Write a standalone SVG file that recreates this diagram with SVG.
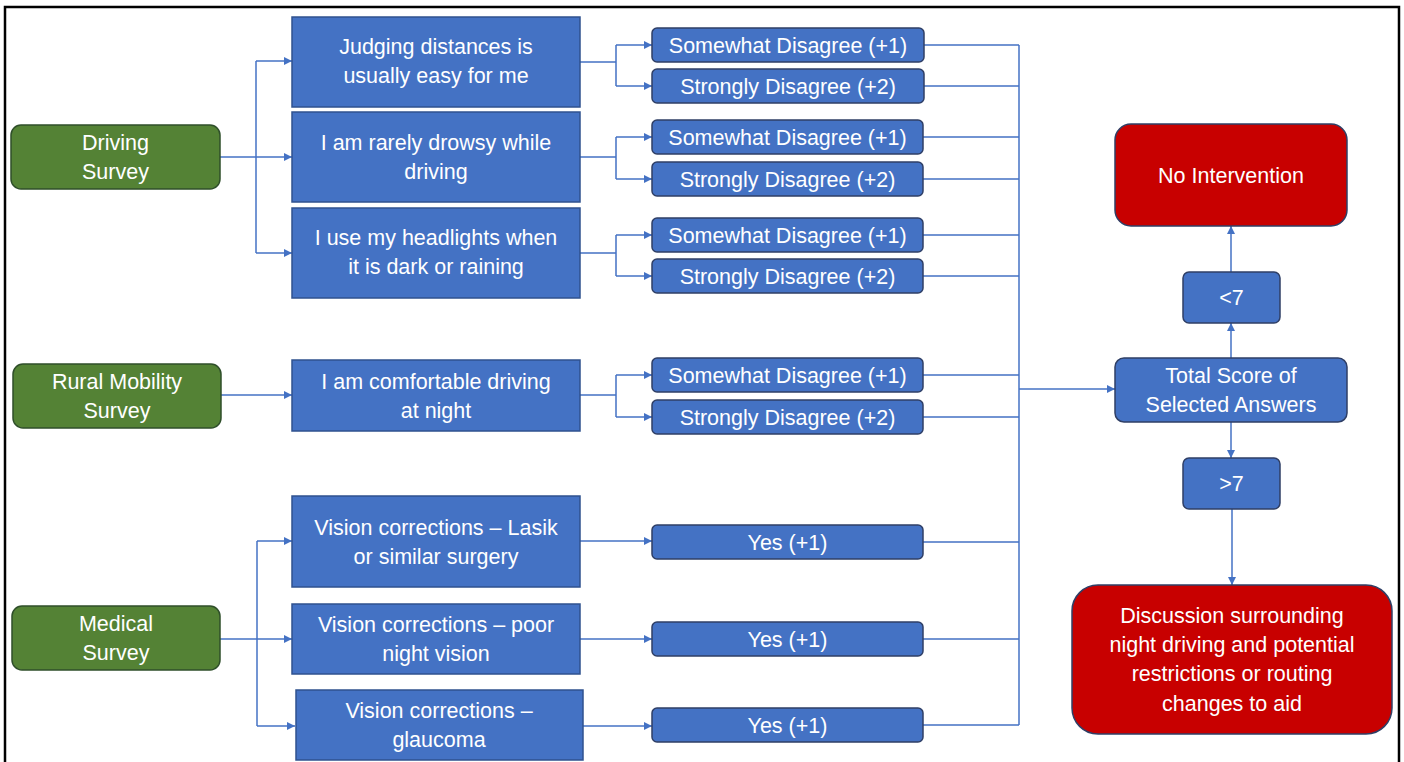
<svg xmlns="http://www.w3.org/2000/svg" width="1404" height="762" viewBox="0 0 1404 762">
  <defs>
    <marker id="arrow" viewBox="0 0 10 10" refX="10" refY="5" markerWidth="8" markerHeight="8" markerUnits="userSpaceOnUse" orient="auto">
      <path d="M0,0 L10,5 L0,10 z" fill="#4472C4"/>
    </marker>
    <style>
      .survey { fill: #548235; stroke: #2F4F2A; stroke-width: 1.5; }
      .question { fill: #4472C4; stroke: #2F528F; stroke-width: 1.5; }
      .answer { fill: #4472C4; stroke: #2F3F66; stroke-width: 1.5; }
      .outcome { fill: #C80000; stroke: #2F3F66; stroke-width: 1.5; }
      .label { fill: #FFFFFF; font-family: "Liberation Sans", Arial, sans-serif; font-size: 21.5px; text-anchor: middle; }
      .link { fill: none; stroke: #4472C4; stroke-width: 1.5; }
      .frame { fill: none; stroke: #000000; stroke-width: 2.5; }
    </style>
  </defs>

  <rect width="1404" height="762" fill="#FFFFFF"/>
  <!-- outer frame, open at the bottom edge -->
  <path class="frame" d="M5,770 V7 H1399 V770"/>

  <!-- connectors -->
  <g id="connectors">
    <!-- Driving Survey fan-out -->
    <path class="link" d="M220,157 H256"/>
    <path class="link" d="M256,61 V253"/>
    <path class="link" d="M256,61 H292" marker-end="url(#arrow)"/>
    <path class="link" d="M256,157 H292" marker-end="url(#arrow)"/>
    <path class="link" d="M256,253 H292" marker-end="url(#arrow)"/>
    <!-- Rural Mobility Survey -->
    <path class="link" d="M221,395 H292" marker-end="url(#arrow)"/>
    <!-- Medical Survey fan-out -->
    <path class="link" d="M220,639 H257"/>
    <path class="link" d="M257,541 V726"/>
    <path class="link" d="M257,541 H292" marker-end="url(#arrow)"/>
    <path class="link" d="M257,639 H292" marker-end="url(#arrow)"/>
    <path class="link" d="M257,726 H295" marker-end="url(#arrow)"/>

    <!-- questions to answer choices -->
    <path class="link" d="M580,62 H616 M616,45 V86"/>
    <path class="link" d="M616,45 H652" marker-end="url(#arrow)"/>
    <path class="link" d="M616,86 H652" marker-end="url(#arrow)"/>
    <path class="link" d="M580,157 H616 M616,137 V179"/>
    <path class="link" d="M616,137 H652" marker-end="url(#arrow)"/>
    <path class="link" d="M616,179 H652" marker-end="url(#arrow)"/>
    <path class="link" d="M580,253 H616 M616,235 V276"/>
    <path class="link" d="M616,235 H652" marker-end="url(#arrow)"/>
    <path class="link" d="M616,276 H652" marker-end="url(#arrow)"/>
    <path class="link" d="M580,395 H616 M616,375 V417"/>
    <path class="link" d="M616,375 H652" marker-end="url(#arrow)"/>
    <path class="link" d="M616,417 H652" marker-end="url(#arrow)"/>
    <path class="link" d="M580,541 H652" marker-end="url(#arrow)"/>
    <path class="link" d="M580,639 H652" marker-end="url(#arrow)"/>
    <path class="link" d="M583,726 H652" marker-end="url(#arrow)"/>

    <!-- answer choices into the score bus -->
    <path class="link" d="M924,45 H1019 M924,86 H1019 M923,137 H1019 M923,179 H1019 M923,235 H1019 M923,276 H1019 M923,375 H1019 M923,417 H1019 M923,542 H1019 M923,639 H1019 M923,725 H1019"/>
    <path class="link" d="M1019,45 V725"/>
    <path class="link" d="M1019,389 H1115" stroke-width="2.2" marker-end="url(#arrow)"/>

    <!-- score thresholds -->
    <path class="link" d="M1231,358 V323" marker-end="url(#arrow)"/>
    <path class="link" d="M1231,272 V226" marker-end="url(#arrow)"/>
    <path class="link" d="M1231,422 V458" marker-end="url(#arrow)"/>
    <path class="link" d="M1232,509 V585" marker-end="url(#arrow)"/>
  </g>

  <!-- surveys -->
  <g id="driving-survey">
    <rect class="survey" x="11" y="125" width="209" height="64" rx="10"/>
    <text class="label" x="115.5" y="150">Driving</text>
    <text class="label" x="115.5" y="179">Survey</text>
  </g>
  <g id="rural-mobility-survey">
    <rect class="survey" x="13" y="364" width="208" height="64" rx="10"/>
    <text class="label" x="117" y="389">Rural Mobility</text>
    <text class="label" x="117" y="418">Survey</text>
  </g>
  <g id="medical-survey">
    <rect class="survey" x="12" y="606" width="208" height="64" rx="10"/>
    <text class="label" x="116" y="631">Medical</text>
    <text class="label" x="116" y="660">Survey</text>
  </g>

  <!-- questions -->
  <g id="q-distances">
    <rect class="question" x="292" y="17" width="288" height="90"/>
    <text class="label" x="436" y="54">Judging distances is</text>
    <text class="label" x="436" y="83">usually easy for me</text>
  </g>
  <g id="q-drowsy">
    <rect class="question" x="292" y="112" width="288" height="90"/>
    <text class="label" x="436" y="150">I am rarely drowsy while</text>
    <text class="label" x="436" y="179">driving</text>
  </g>
  <g id="q-headlights">
    <rect class="question" x="292" y="208" width="288" height="90"/>
    <text class="label" x="436" y="245">I use my headlights when</text>
    <text class="label" x="436" y="274">it is dark or raining</text>
  </g>
  <g id="q-night">
    <rect class="question" x="292" y="360" width="288" height="71"/>
    <text class="label" x="436" y="389">I am comfortable driving</text>
    <text class="label" x="436" y="418">at night</text>
  </g>
  <g id="q-lasik">
    <rect class="question" x="292" y="496" width="288" height="91"/>
    <text class="label" x="436" y="535">Vision corrections – Lasik</text>
    <text class="label" x="436" y="564">or similar surgery</text>
  </g>
  <g id="q-night-vision">
    <rect class="question" x="292" y="604" width="288" height="70"/>
    <text class="label" x="436" y="632">Vision corrections – poor</text>
    <text class="label" x="436" y="661">night vision</text>
  </g>
  <g id="q-glaucoma">
    <rect class="question" x="296" y="690" width="287" height="70"/>
    <text class="label" x="439" y="718">Vision corrections –</text>
    <text class="label" x="439" y="747">glaucoma</text>
  </g>

  <!-- answer choices -->
  <g id="a-distances-somewhat">
    <rect class="answer" x="652" y="28" width="272" height="34" rx="5"/>
    <text class="label" x="788" y="52.5">Somewhat Disagree (+1)</text>
  </g>
  <g id="a-distances-strongly">
    <rect class="answer" x="652" y="69" width="272" height="34" rx="5"/>
    <text class="label" x="788" y="93.5">Strongly Disagree (+2)</text>
  </g>
  <g id="a-drowsy-somewhat">
    <rect class="answer" x="652" y="120" width="271" height="34" rx="5"/>
    <text class="label" x="787.5" y="144.5">Somewhat Disagree (+1)</text>
  </g>
  <g id="a-drowsy-strongly">
    <rect class="answer" x="652" y="162" width="271" height="34" rx="5"/>
    <text class="label" x="787.5" y="186.5">Strongly Disagree (+2)</text>
  </g>
  <g id="a-headlights-somewhat">
    <rect class="answer" x="652" y="218" width="271" height="34" rx="5"/>
    <text class="label" x="787.5" y="242.5">Somewhat Disagree (+1)</text>
  </g>
  <g id="a-headlights-strongly">
    <rect class="answer" x="652" y="259" width="271" height="34" rx="5"/>
    <text class="label" x="787.5" y="283.5">Strongly Disagree (+2)</text>
  </g>
  <g id="a-night-somewhat">
    <rect class="answer" x="652" y="358" width="271" height="34" rx="5"/>
    <text class="label" x="787.5" y="382.5">Somewhat Disagree (+1)</text>
  </g>
  <g id="a-night-strongly">
    <rect class="answer" x="652" y="400" width="271" height="34" rx="5"/>
    <text class="label" x="787.5" y="424.5">Strongly Disagree (+2)</text>
  </g>
  <g id="a-lasik-yes">
    <rect class="answer" x="652" y="525" width="271" height="34" rx="5"/>
    <text class="label" x="787.5" y="549.5">Yes (+1)</text>
  </g>
  <g id="a-night-vision-yes">
    <rect class="answer" x="652" y="622" width="271" height="34" rx="5"/>
    <text class="label" x="787.5" y="646.5">Yes (+1)</text>
  </g>
  <g id="a-glaucoma-yes">
    <rect class="answer" x="652" y="708" width="271" height="34" rx="5"/>
    <text class="label" x="787.5" y="732.5">Yes (+1)</text>
  </g>

  <!-- scoring and outcomes -->
  <g id="total-score">
    <rect class="answer" x="1115" y="358" width="232" height="64" rx="9"/>
    <text class="label" x="1231" y="383">Total Score of</text>
    <text class="label" x="1231" y="412">Selected Answers</text>
  </g>
  <g id="below-seven">
    <rect class="answer" x="1183" y="272" width="97" height="51" rx="6"/>
    <text class="label" x="1231.5" y="305">&lt;7</text>
  </g>
  <g id="above-seven">
    <rect class="answer" x="1183" y="458" width="97" height="51" rx="6"/>
    <text class="label" x="1231.5" y="491">&gt;7</text>
  </g>
  <g id="no-intervention">
    <rect class="outcome" x="1115" y="124" width="232" height="102" rx="16"/>
    <text class="label" x="1231" y="183">No Intervention</text>
  </g>
  <g id="discussion">
    <rect class="outcome" x="1072" y="585" width="320" height="149" rx="26"/>
    <text class="label" x="1232" y="623">Discussion surrounding</text>
    <text class="label" x="1232" y="652">night driving and potential</text>
    <text class="label" x="1232" y="681">restrictions or routing</text>
    <text class="label" x="1232" y="711">changes to aid</text>
  </g>
</svg>
